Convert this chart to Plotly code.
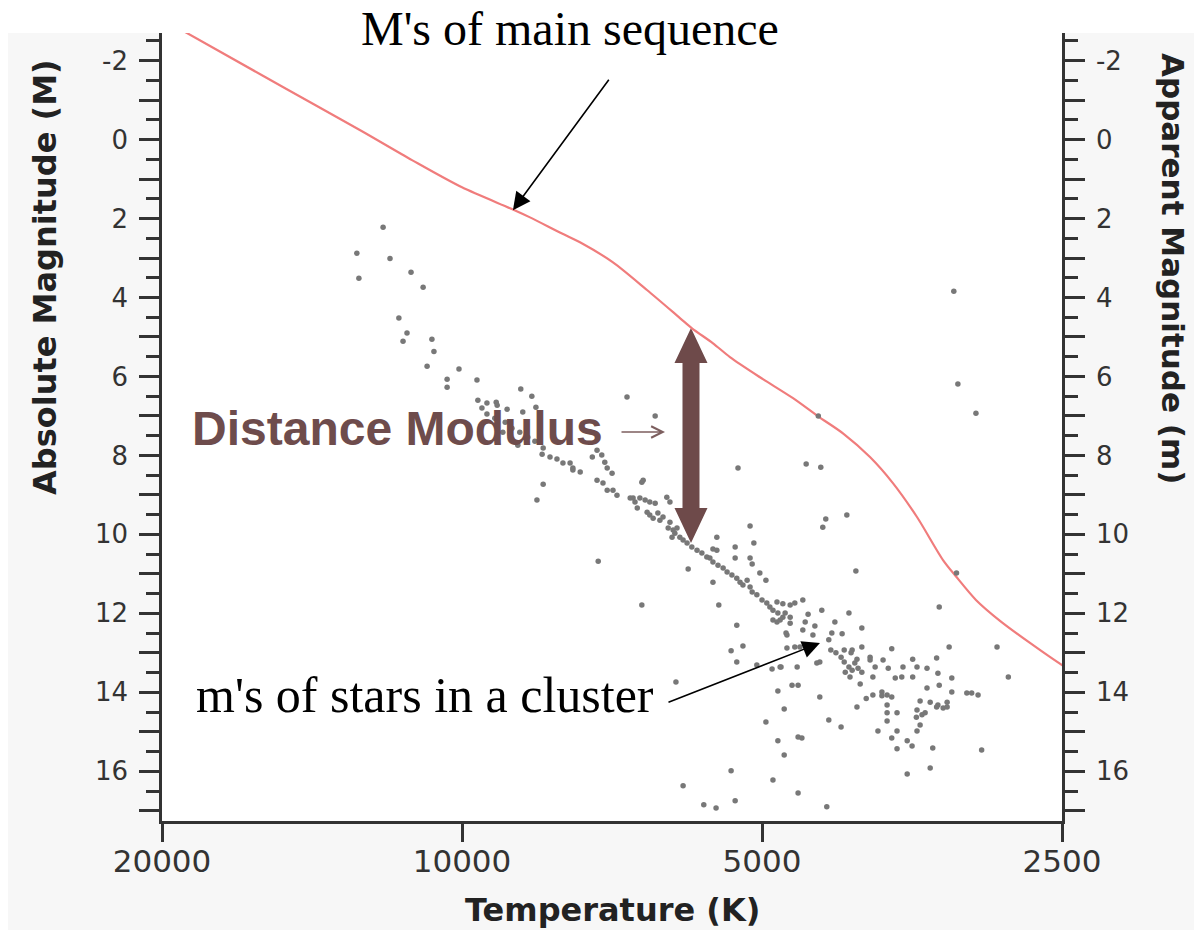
import math
import plotly.graph_objects as go

# ---------------- data ----------------
# main-sequence absolute magnitude curve (temperature K, magnitude)
curve_temp = [19190, 15874, 14142, 12599, 11225, 10000, 8890, 8546, 7937, 7614, 7055, 6522,
              6044, 5878, 5599, 5384, 5023, 4654, 4392, 4147, 3896, 3695, 3495, 3291, 3195,
              3050, 2885, 2692, 2500, 2454]
curve_mag = [-2.80, -1.63, -0.92, -0.21, 0.52, 1.21, 1.77, 1.97, 2.38, 2.60, 3.11, 3.81,
             4.52, 4.78, 5.16, 5.51, 6.02, 6.55, 7.01, 7.44, 8.04, 8.70, 9.56, 10.65, 11.06,
             11.66, 12.19, 12.75, 13.31, 13.43]

# apparent magnitudes of cluster stars
star_temp = [
    12000, 12750, 11810, 11250, 12690, 10940, 11570, 11355, 11460, 10720, 10670, 10840, 10070,
    10350, 10350, 9660, 8730, 8510, 9640, 9440, 9240, 9220, 9550, 9010, 8690, 8430, 9440, 6830,
    6400, 9270, 9050, 8910, 8750, 8590, 8450, 9100, 8790, 8290, 8310, 8160, 8030, 7920, 7790,
    7740, 8290, 8410, 7610, 7320, 7240, 7400, 7190, 7150, 7070, 7320, 7220, 7150, 7055, 6990,
    6600, 6580, 6780, 6705, 6630, 6550, 6480, 6400, 6230, 6185, 6670, 6520, 6480, 6430, 6360,
    6330, 6285, 6185, 6210, 6140, 6155, 6000, 5945, 5880, 5810, 5745, 5680, 5640, 5600, 5535,
    5470, 5420, 5360, 5300, 5260, 5225, 5175, 5140, 5115, 5060, 5000, 4945, 4910, 4875, 4820,
    4765, 4875, 4830, 6735, 6115, 6045, 6085, 5550, 7740, 5285, 5140, 5095, 5550, 5600, 5320,
    5320, 5140, 5115, 5025, 4955, 5600, 5930, 7300, 6600, 5525, 5300, 4515, 4365, 4315, 4345,
    4110, 4025, 3190, 3320, 2905, 2830, 3245, 3210, 3180, 3050, 4390, 4830, 4765, 4685, 4635,
    4550, 4740, 4685, 4495, 4355, 4525, 4425, 4550, 4445, 4255, 4155, 4225, 4090, 3970, 4285,
    4265, 4215, 4165, 4135, 4090, 4060, 4035, 4005, 4125, 4080, 4060, 3970, 3895, 3895, 3850,
    3780, 3735, 3705, 3610, 3530, 3495, 3415, 3340, 3330, 3225, 3675, 3620, 3530, 4375, 4405,
    4610, 4720, 4635, 4795, 4665, 4600, 3985, 3870, 3745, 3415, 3320, 3225, 3115, 3080, 3035,
    4375, 5060, 5300, 5370, 5225, 4885, 4785, 4720, 4580, 6100, 4820, 4750, 4955, 4820, 4750,
    4600, 4600, 5370, 4875, 6000, 5720, 5560, 5320, 4305, 4285, 4165, 4560, 4015, 3930, 3870,
    3790, 3790, 3705, 3745, 3745, 3745, 3660, 3825, 3660, 3705, 3660, 3575, 3535, 3470, 3390,
    3495, 3455, 3430, 3470, 3495, 3330, 3290, 3260, 3260, 3370, 3390, 3575, 3010, 4795, 4685,
    4730, 4135, 4070, 4015, 3970, 3340, 3500]
star_mag = [
    2.22, 2.88, 3.01, 3.36, 3.51, 3.74, 4.52, 4.90, 5.11, 5.06, 5.37, 5.74, 5.81,
    6.07, 6.27, 6.09, 6.32, 6.50, 6.60, 6.67, 6.65, 6.73, 6.80, 6.83, 6.90, 6.78, 6.95, 6.52,
    7.00, 7.06, 7.16, 7.31, 7.41, 7.54, 7.64, 7.41, 7.74, 7.81, 7.97, 8.04, 8.09, 8.19, 8.19,
    8.32, 8.73, 9.13, 8.42, 7.87, 7.99, 8.04, 8.17, 8.32, 8.45, 8.63, 8.70, 8.88, 8.88, 9.01,
    8.68, 8.63, 9.08, 9.18, 9.08, 9.13, 9.18, 9.21, 9.06, 9.18, 9.33, 9.44, 9.51, 9.59, 9.46,
    9.64, 9.56, 9.69, 9.84, 9.89, 10.07, 10.14, 10.22, 10.32, 10.40, 10.47, 10.57, 10.60, 10.70, 10.78,
    10.85, 10.95, 11.03, 11.11, 11.21, 11.28, 11.16, 11.33, 11.46, 11.53, 11.66, 11.74, 11.84, 11.92, 11.99,
    12.10, 12.17, 12.22, 9.08, 9.97, 10.07, 9.84, 10.40, 8.37, 8.32, 9.79, 10.22, 10.07, 10.37, 10.32,
    10.60, 10.60, 10.75, 10.98, 11.16, 11.21, 10.88, 10.68, 11.79, 11.79, 12.30, 8.22, 8.30, 9.61, 9.82,
    9.51, 10.93, 10.98, 11.84, 12.85, 13.61, 12.85, 3.84, 6.19, 6.93, 7.00, 11.71, 11.76, 11.79, 11.74,
    11.66, 11.99, 12.10, 12.02, 11.92, 12.22, 12.32, 12.42, 12.55, 12.50, 12.52, 12.22, 11.99, 12.37, 12.67,
    12.93, 13.00, 13.11, 13.23, 13.36, 13.44, 13.26, 13.39, 13.49, 13.61, 12.93, 12.85, 13.11, 13.18, 13.36,
    13.18, 13.39, 12.90, 13.36, 13.16, 13.36, 13.39, 13.13, 13.52, 13.64, 13.64, 13.61, 13.61, 13.23, 13.26,
    13.36, 12.88, 12.85, 13.36, 13.82, 13.82, 13.79, 13.61, 14.07, 13.89, 13.82, 13.99, 14.02, 14.02, 14.07,
    14.12, 13.31, 13.23, 12.95, 12.83, 13.41, 13.36, 12.55, 12.85, 13.74, 13.97, 14.42, 14.75, 15.23, 15.59,
    15.13, 16.55, 15.99, 16.22, 16.37, 16.85, 16.93, 16.75, 16.90, 14.70, 14.88, 15.16, 14.37, 14.16, 14.07,
    13.99, 14.09, 14.12, 14.32, 14.52, 14.73, 14.52, 14.98, 14.98, 15.16, 15.43, 15.23, 15.36, 14.22, 14.25,
    14.45, 14.57, 14.52, 14.83, 14.98, 14.32, 14.40, 14.25, 14.37, 15.41, 15.92, 16.07, 15.46, 12.17, 12.25,
    12.50, 12.93, 13.00, 13.16, 13.49, 14.37, 14.63]

x_tickvals = [20000, 10000, 5000, 2500]
x_ticktext = ["20000", "10000", "5000", "2500"]
y_tickvals = list(range(-2, 18))
y_ticktext = [str(v) if v % 2 == 0 else "" for v in y_tickvals]

# arrow annotation targets (data)
seq_arrow_T, seq_arrow_M = 8890, 1.79
clu_arrow_T, clu_arrow_M = 4373, 12.75

# ---------------- layout helpers ----------------
W, H = 1194, 930
PL, PR, PT, PB = 162, 1062, 33, 821


def fx(px):
    return (px - PL) / (PR - PL)


def fy(py):
    return (PB - py) / (PB - PT)


AX = "#333333"
TICKFONT = "DejaVu Sans"

fig = go.Figure()
fig.add_trace(go.Scatter(x=curve_temp, y=curve_mag, mode="lines",
                         line=dict(color="#f07c7c", width=2.2, shape="spline", smoothing=0.8),
                         hoverinfo="skip", showlegend=False))
fig.add_trace(go.Scatter(x=star_temp, y=star_mag, mode="markers",
                         marker=dict(color="#787878", size=5.5, line=dict(width=0)),
                         showlegend=False))
fig.add_trace(go.Scatter(x=[None], y=[None], yaxis="y2", showlegend=False, hoverinfo="skip"))

yaxis_common = dict(
    range=[17.26, -2.7], tickmode="array", tickvals=y_tickvals, ticktext=y_ticktext,
    ticks="outside", ticklen=20, tickwidth=2.5, tickcolor=AX,
    minor=dict(dtick=0.5, tick0=0, ticks="outside", ticklen=13, tickwidth=2.5, tickcolor=AX),
    showline=True, linecolor=AX, linewidth=2.5, showgrid=False, zeroline=False,
    tickfont=dict(family=TICKFONT, size=26, color=AX), ticklabelstandoff=6, fixedrange=True,
)

fig.update_layout(
    width=W, height=H, autosize=False,
    margin=dict(l=PL, r=W - PR, t=PT, b=H - PB, pad=0),
    paper_bgcolor="#f7f7f7", plot_bgcolor="white",
    xaxis=dict(type="log", range=[math.log10(20000), math.log10(2500)],
               tickmode="array", tickvals=x_tickvals, ticktext=x_ticktext,
               ticks="outside", ticklen=18, tickwidth=2.5, tickcolor=AX,
               showline=True, linecolor=AX, linewidth=2.5, showgrid=False, zeroline=False,
               tickfont=dict(family=TICKFONT, size=31, color=AX), ticklabelstandoff=-7,
               fixedrange=True),
    yaxis=dict(**yaxis_common),
    yaxis2=dict(**yaxis_common, overlaying="y", side="right", anchor="x"),
    showlegend=False,
)

# white strips outside the original chart image
fig.add_shape(type="rect", xref="paper", yref="paper", x0=fx(-5), x1=fx(W + 5), y0=fy(PT), y1=fy(-5),
              fillcolor="white", line=dict(width=0), layer="below")
fig.add_shape(type="rect", xref="paper", yref="paper", x0=fx(-5), x1=fx(8), y0=fy(H + 5), y1=fy(-5),
              fillcolor="white", line=dict(width=0), layer="below")

# big double-headed arrow (distance modulus)
cx, top, bot = 691, 328, 543
sw, hw, hl = 8.5, 16.5, 35
pts = [(cx, top), (cx + hw, top + hl), (cx + sw, top + hl), (cx + sw, bot - hl), (cx + hw, bot - hl),
       (cx, bot), (cx - hw, bot - hl), (cx - sw, bot - hl), (cx - sw, top + hl), (cx - hw, top + hl)]
path = "M " + " L ".join(f"{fx(a):.5f},{fy(b):.5f}" for a, b in pts) + " Z"
fig.add_shape(type="path", xref="paper", yref="paper", path=path,
              fillcolor="#6e4a4a", line=dict(width=0), layer="below")

SERIF = "Liberation Serif"
BROWN = "#6e4c4c"
annots = [
    dict(text="M's of main sequence", x=fx(570), y=fy(28), font=dict(family=SERIF, size=48, color="black")),
    dict(text="m's of stars in a cluster", x=fx(425), y=fy(695), font=dict(family=SERIF, size=50, color="black")),
    dict(text="<b>Distance Modulus</b>", x=fx(397), y=fy(428),
         font=dict(family="Liberation Sans", size=48, color=BROWN)),
    dict(text="<b>Absolute Magnitude (M)</b>", x=fx(45), y=fy(277), textangle=-90,
         font=dict(family=TICKFONT, size=32, color="#222222")),
    dict(text="<b>Apparent Magnitude (m)</b>", x=fx(1173), y=fy(268), textangle=90,
         font=dict(family=TICKFONT, size=31, color="#222222")),
    dict(text="<b>Temperature (K)</b>", x=fx(612), y=fy(910),
         font=dict(family=TICKFONT, size=32, color="#222222")),
]
for a in annots:
    fig.add_annotation(xref="paper", yref="paper", showarrow=False,
                       xanchor="center", yanchor="middle", **a)

# thin arrow after "Distance Modulus"
fig.add_annotation(xref="paper", yref="paper", x=fx(665), y=fy(432), ax=-45, ay=0,
                   text="", showarrow=True, arrowhead=5,
                   arrowsize=1.4, arrowwidth=1.6, arrowcolor="#7d5f5f")

# pointer arrows
fig.add_annotation(x=math.log10(seq_arrow_T), y=seq_arrow_M, xref="x", yref="y", text="",
                   showarrow=True, ax=97, ay=-132, arrowhead=2, arrowsize=2.2, arrowwidth=1.6,
                   arrowcolor="black")
fig.add_annotation(x=math.log10(clu_arrow_T), y=clu_arrow_M, xref="x", yref="y", text="",
                   showarrow=True, ax=-153, ay=60, arrowhead=2, arrowsize=2.2, arrowwidth=1.6,
                   arrowcolor="black")

fig.write_html("out.html", config={"displayModeBar": False},
               post_script="document.body.style.margin='0';document.body.style.overflow='hidden';")
